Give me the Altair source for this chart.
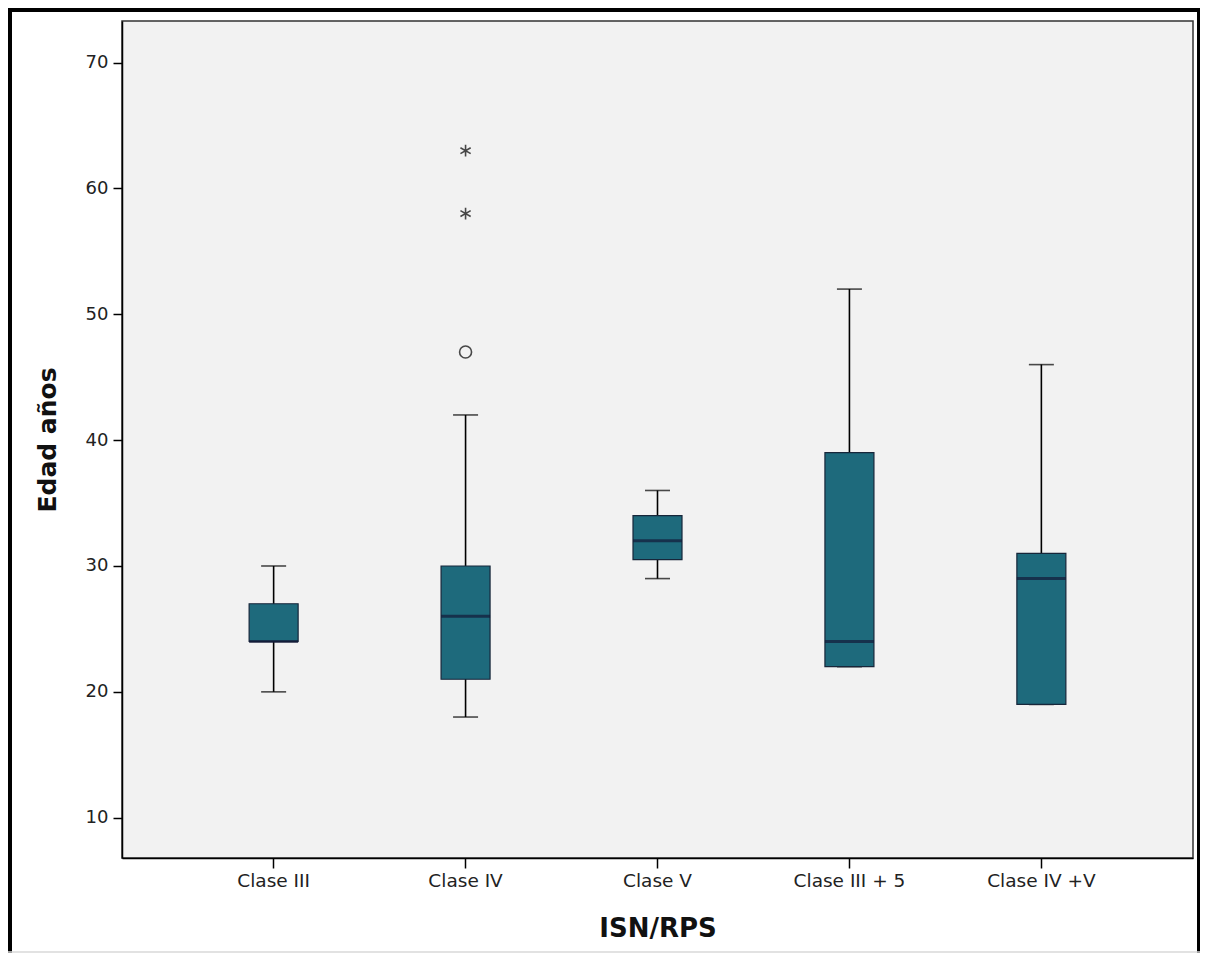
import altair as alt
import pandas as pd

# ---- data ----
cats = ["Clase III", "Clase IV", "Clase V", "Clase III + 5", "Clase IV +V"]
whisk_low = [20, 18, 29, 22, 19]
q1 = [24, 21, 30.5, 22, 19]
median = [24, 26, 32, 24, 29]
q3 = [27, 30, 34, 39, 31]
whisk_high = [30, 42, 36, 52, 46]

outlier_cats = ["Clase IV"]
outlier_vals = [47]
extreme_cats = ["Clase IV", "Clase IV"]
extreme_vals = [63, 58]

y_ticks = [10, 20, 30, 40, 50, 60, 70]

box = pd.DataFrame({"cat": cats, "low": whisk_low, "q1": q1, "med": median,
                    "q3": q3, "high": whisk_high})
outl = pd.DataFrame({"cat": outlier_cats, "val": outlier_vals})
extr = pd.DataFrame({"cat": extreme_cats, "val": extreme_vals})

W, H = 1071, 837
FONT = "DejaVu Sans"


def X():
    return alt.X("cat:N", sort=cats,
                 scale=alt.Scale(domain=cats, paddingOuter=0.29, paddingInner=0),
                 axis=alt.Axis(title="ISN/RPS", labelAngle=0, labelFontSize=18.5,
                               labelColor="#222222", labelFont=FONT,
                               tickSize=10, tickColor="black", tickWidth=1.5,
                               labelPadding=3, domainColor="black", domainWidth=1.5,
                               titleFont=FONT, titleFontSize=26, titleFontWeight="bold",
                               titleColor="#111111", titleX=W / 2, titleY=70,
                               titleAlign="center", titleBaseline="middle"))


def Y(field):
    return alt.Y(field, scale=alt.Scale(domain=[6.8, 73.3], nice=False, zero=False),
                 axis=alt.Axis(title="Edad años", values=y_ticks, grid=False,
                               labelFontSize=18, labelColor="#222222", labelFont=FONT,
                               tickSize=9, tickColor="black", tickWidth=1.5,
                               labelPadding=5, domainColor="black", domainWidth=1.5,
                               titleFont=FONT, titleFontSize=25, titleFontWeight="bold",
                               titleColor="#111111", titleX=-75, titleY=H / 2,
                               titleAngle=270, titleAlign="center",
                               titleBaseline="middle"))


base = alt.Chart(box)

whiskers = base.mark_rule(color="black", strokeWidth=1.6).encode(
    x=X(), y=Y("low:Q"), y2="high:Q")
cap_low = base.mark_tick(size=25, thickness=1.6, color="black").encode(
    x=X(), y=Y("low:Q"))
cap_high = base.mark_tick(size=25, thickness=1.6, color="black").encode(
    x=X(), y=Y("high:Q"))
boxes = base.mark_bar(size=49, fill="#1e6a7c", stroke="#17263a",
                      strokeWidth=1.2).encode(x=X(), y=Y("q1:Q"), y2="q3:Q")
medians = base.mark_tick(size=49, thickness=3, color="#121a38").encode(
    x=X(), y=Y("med:Q"))

circles = alt.Chart(outl).mark_point(shape="circle", filled=False, size=144,
                                     strokeWidth=1.6, color="black").encode(
    x=X(), y=Y("val:Q"))
star_path = "M0,-1L0,1M-0.866,-0.5L0.866,0.5M-0.866,0.5L0.866,-0.5"
stars = alt.Chart(extr).mark_point(shape=star_path, filled=False, size=140,
                                   strokeWidth=1.6, color="black").encode(
    x=X(), y=Y("val:Q"))

# decorative outer frame (not data)
one = alt.InlineData(values=[{"k": 0}])
frame_left = alt.Chart(one).mark_rule(color="black", strokeWidth=4).encode(
    x=alt.value(-112), y=alt.value(-13), y2=alt.value(932))
frame_top = alt.Chart(one).mark_rule(color="black", strokeWidth=4).encode(
    y=alt.value(-11), x=alt.value(-114), x2=alt.value(1078))
frame_right = alt.Chart(one).mark_rule(color="black", strokeWidth=3).encode(
    x=alt.value(1076.5), y=alt.value(-13), y2=alt.value(932))
frame_bottom = alt.Chart(one).mark_rule(color="#d8d8d8", strokeWidth=1.5).encode(
    y=alt.value(931), x=alt.value(-114), x2=alt.value(1078))

chart = alt.layer(
    whiskers, cap_low, cap_high, boxes, medians, circles, stars,
    frame_left, frame_top, frame_right, frame_bottom
).properties(
    width=W, height=H,
    padding={"left": 114, "top": 13, "right": 7, "bottom": 95},
    autosize=alt.AutoSizeParams(type="none"),
    background="white",
).configure_view(
    fill="#f2f2f2", stroke="#333333", strokeWidth=1.5
)

chart.save("out.html", embed_options={"renderer": "svg", "actions": False})
